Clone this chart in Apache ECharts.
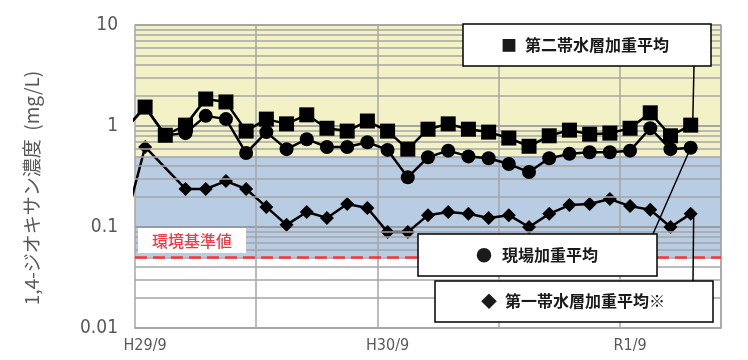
<!DOCTYPE html>
<html>
<head>
<meta charset="utf-8">
<script src="https://cdn.jsdelivr.net/npm/echarts@6/dist/echarts.min.js"></script>
<style>
* { margin: 0; padding: 0; }
body { background: #fff; }
#chart { width: 748px; height: 360px; }
</style>
</head>
<body>
<div id="chart"></div>
<script>
// 月 (H29/9 ～ R2/1)、ラベルは12か月ごと
const months = ['H29/9', 'H29/10', 'H29/11', 'H29/12',
  'H30/1', 'H30/2', 'H30/3', 'H30/4', 'H30/5', 'H30/6', 'H30/7', 'H30/8', 'H30/9', 'H30/10', 'H30/11', 'H30/12',
  'H31/1', 'H31/2', 'H31/3', 'H31/4', 'R1/5', 'R1/6', 'R1/7', 'R1/8', 'R1/9', 'R1/10', 'R1/11', 'R1/12', 'R2/1'];

// 値は H29/8 (左端の外側) から
const secondAquifer = [0.93, 1.54, 0.81, 1.02, 1.85, 1.73, 0.89, 1.17, 1.05, 1.29, 0.95, 0.89, 1.12, 0.89, 0.59,
  0.93, 1.05, 0.93, 0.87, 0.76, 0.63, 0.80, 0.91, 0.83, 0.85, 0.95, 1.35, 0.80, 1.02];
const siteAverage = [0.93, 1.54, 0.81, 0.85, 1.26, 1.17, 0.54, 0.87, 0.59, 0.74, 0.62, 0.62, 0.69, 0.58, 0.31,
  0.49, 0.57, 0.50, 0.48, 0.42, 0.35, 0.48, 0.53, 0.55, 0.55, 0.57, 0.95, 0.59, 0.61];
const firstAquifer = [0.107, 0.62, null, 0.238, 0.238, 0.285, 0.238, 0.158, 0.105, 0.141, 0.123, 0.169, 0.154, 0.089, 0.089,
  0.131, 0.141, 0.135, 0.123, 0.131, 0.10, 0.135, 0.165, 0.169, 0.189, 0.161, 0.148, 0.10, 0.135];

const yTickLabels = ['0.01', '0.1', '1', '10'];
const standardValue = 0.05;
const yellowBand = [0.5, 10];
const blueBand = [0.05, 0.5];

const gray = '#595959';
const gridGray = '#a6a6a6';
const narrow = "'Liberation Sans Narrow', 'DejaVu Sans Condensed', 'Liberation Sans', sans-serif";
const cjk = "'Noto Sans CJK JP', sans-serif";

const toPairs = (arr) => arr.map((v, i) => [i - 1, v]).filter(p => p[1] != null);

// 対数目盛の補助線 (2～9)
const minorLevels = [];
[0.01, 0.1, 1].forEach(d => { for (let k = 2; k <= 9; k++) minorLevels.push(+(d * k).toPrecision(3)); });

const chart = echarts.init(document.getElementById('chart'));

const option = {
    animation: false,
    backgroundColor: '#ffffff',
    grid: { left: 135, top: 25, right: 27, bottom: 32 },
    xAxis: [
        {
            type: 'category',
            data: months,
            boundaryGap: true,
            z: 2,
            axisLine: { onZero: false, lineStyle: { color: gridGray, width: 1.5 } },
            axisTick: { show: false },
            axisLabel: { interval: 11, color: gray, fontSize: 16, fontFamily: narrow, margin: 10 },
            splitLine: {
                show: true,
                interval: (i) => i > 0 && i % 6 === 0,
                lineStyle: { color: gridGray, width: 1.5 }
            }
        },
        { type: 'value', min: -0.5, max: 28.5, show: false }
    ],
    yAxis: [
        {
            type: 'log',
            logBase: 10,
            min: 0.01,
            max: 10,
            z: 2,
            axisLine: { show: true, onZero: false, lineStyle: { color: gridGray, width: 1.5 } },
            axisTick: { show: false },
            axisLabel: {
                color: gray, fontSize: 19, fontFamily: narrow, margin: 17,
                formatter: (v) => yTickLabels[Math.round(Math.log10(v)) + 2]
            },
            splitLine: { show: true, lineStyle: { color: '#8c8c8c', width: 1.5 } }
        },
        {
            type: 'log',
            min: 0.01,
            max: 10,
            position: 'right',
            z: 2,
            axisLine: { show: true, onZero: false, lineStyle: { color: gridGray, width: 1.5 } },
            axisTick: { show: false },
            axisLabel: { show: false },
            splitLine: { show: false }
        }
    ],
    series: [
        {
            name: 'bands',
            type: 'line',
            xAxisIndex: 1,
            data: [],
            z: 1,
            silent: true,
            markArea: {
                silent: true,
                data: [
                    [{ yAxis: yellowBand[0], itemStyle: { color: '#f2f2c6' } }, { yAxis: yellowBand[1] }],
                    [{ yAxis: blueBand[0], itemStyle: { color: '#b8cce4' } }, { yAxis: blueBand[1] }]
                ]
            }
        },
        {
            name: 'minor',
            type: 'line',
            xAxisIndex: 1,
            data: [],
            z: 2,
            silent: true,
            markLine: {
                silent: true,
                symbol: 'none',
                label: { show: false },
                lineStyle: { color: gridGray, width: 1.5, type: 'solid' },
                data: minorLevels.map(v => ({ yAxis: v }))
            }
        },
        {
            name: 'standard',
            type: 'line',
            xAxisIndex: 1,
            data: [],
            z: 3,
            silent: true,
            markLine: {
                silent: true,
                symbol: 'none',
                label: { show: false },
                lineStyle: { color: '#ff3333', width: 2.5, type: [12, 6] },
                data: [{ yAxis: standardValue }]
            }
        },
        {
            name: '第一帯水層加重平均※',
            type: 'line',
            xAxisIndex: 1,
            data: toPairs(firstAquifer),
            z: 4,
            symbol: 'diamond',
            symbolSize: 14,
            itemStyle: { color: '#000' },
            lineStyle: { color: '#000', width: 2.5 }
        },
        {
            name: '現場加重平均',
            type: 'line',
            xAxisIndex: 1,
            data: toPairs(siteAverage),
            z: 5,
            symbol: 'circle',
            symbolSize: 14,
            itemStyle: { color: '#000' },
            lineStyle: { color: '#000', width: 2.5 }
        },
        {
            name: '第二帯水層加重平均',
            type: 'line',
            xAxisIndex: 1,
            data: toPairs(secondAquifer),
            z: 6,
            symbol: 'rect',
            symbolSize: 15,
            itemStyle: { color: '#000' },
            lineStyle: { color: '#000', width: 2.5 }
        }
    ]
};

chart.setOption(option);

// 凡例ボックスと引出線
const last = secondAquifer.length - 2;
const pSecond = chart.convertToPixel({ xAxisIndex: 1, yAxisIndex: 0 }, [last, secondAquifer[last + 1]]);
const pSite = chart.convertToPixel({ xAxisIndex: 1, yAxisIndex: 0 }, [last, siteAverage[last + 1]]);
const pFirst = chart.convertToPixel({ xAxisIndex: 1, yAxisIndex: 0 }, [last, firstAquifer[last + 1]]);

const box = (x, y, w, h) => ({
    type: 'rect', z: 100, shape: { x, y, width: w, height: h },
    style: { fill: '#fff', stroke: '#000', lineWidth: 1.5 }
});
const label = (x, y, text, align, size) => ({
    type: 'text', z: 101, x, y,
    style: { text, fill: '#1a1a1a', font: `bold ${size}px ${cjk}`, align, verticalAlign: 'middle' }
});
const leader = (x1, y1, x2, y2) => ({
    type: 'line', z: 99, shape: { x1, y1, x2, y2 },
    style: { stroke: '#000', lineWidth: 1.5 }
});

chart.setOption({
    graphic: [
        { type: 'rect', z: 100, shape: { x: 138, y: 228, width: 108, height: 25 }, style: { fill: '#fff' } },
        { type: 'text', z: 101, x: 192, y: 241,
          style: { text: '環境基準値', fill: '#f03a44', font: `500 16px ${cjk}`, align: 'center', verticalAlign: 'middle' } },

        leader(694, 66, pSecond[0] + 2, pSecond[1]),
        leader(653, 234, pSite[0], pSite[1]),
        leader(693, 281, pFirst[0] + 3, pFirst[1]),

        box(463, 24, 248, 42),
        label(509, 45, '■', 'center', 16),
        label(525, 45, '第二帯水層加重平均', 'left', 16),

        box(418, 234, 239, 42),
        label(484, 255, '●', 'center', 16),
        label(502, 255, '現場加重平均', 'left', 16),

        box(435, 281, 278, 41),
        label(489, 301, '◆', 'center', 16),
        label(505, 301, '第一帯水層加重平均※', 'left', 16),

        { type: 'text', z: 101, x: 32, y: 188, rotation: Math.PI / 2,
          style: { text: '1,4-ジオキサン濃度  (mg/L)', fill: gray, font: `19px ${cjk}`, align: 'center', verticalAlign: 'middle' } }
    ]
});
</script>
</body>
</html>
